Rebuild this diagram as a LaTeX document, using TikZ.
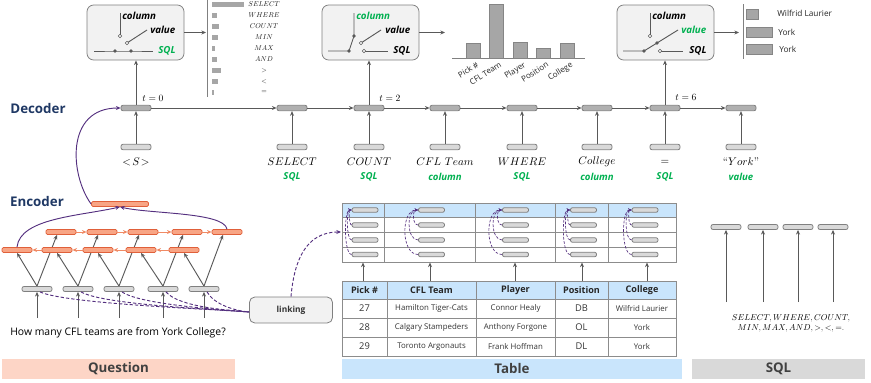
\documentclass[tikz,border=0pt]{standalone}
\usepackage{fontspec}
\usepackage{graphicx}
\setsansfont{Open Sans}
\usetikzlibrary{arrows.meta,calc}
\pgfdeclarelayer{bg}
\pgfsetlayers{bg,main}
\newcommand\mymth[2]{\scalebox{#1}{\fontsize{10}{12}\selectfont$#2$}}
\definecolor{arrgray}{HTML}{595959}
\definecolor{boxline}{HTML}{808080}
\definecolor{hidfill}{HTML}{B0B0B0}
\definecolor{inpfill}{HTML}{D9D9D9}
\definecolor{orfill}{HTML}{F8A585}
\definecolor{orline}{HTML}{E0603A}
\definecolor{orarrow}{HTML}{F08A64}
\definecolor{purp}{HTML}{54307F}
\definecolor{grn}{HTML}{00B050}
\definecolor{navy}{HTML}{1F3864}
\definecolor{swfill}{HTML}{F2F2F2}
\definecolor{barfill}{HTML}{A6A6A6}
\definecolor{peach}{HTML}{FDD5C6}
\definecolor{lblue}{HTML}{C9E5FC}
\definecolor{lgray}{HTML}{D9D9D9}
\definecolor{bandtext}{HTML}{404040}
\definecolor{tblline}{HTML}{8C8C8C}
\tikzset{
  gl/.style={draw=arrgray, line width=0.7pt},
  garr/.style={gl, -{Stealth[length=3.5pt,width=3pt]}},
  oarr/.style={draw=orarrow, line width=0.7pt, -{Stealth[length=3.5pt,width=3pt]}},
  parr/.style={draw=purp, line width=0.7pt, -{Stealth[length=3.5pt,width=3pt]}},
  pdash/.style={parr, dash pattern=on 2.5pt off 1.5pt},
  pdline/.style={draw=purp, line width=0.7pt, dash pattern=on 2.5pt off 1.5pt},
  pdsmall/.style={draw=purp, line width=0.5pt, dash pattern=on 2pt off 1.2pt, -{Stealth[length=2.5pt,width=2.2pt]}},
  hid/.style={draw=boxline, fill=hidfill, rounded corners=1.5pt, minimum width=22.5pt, minimum height=4.1pt, inner sep=0pt, line width=0.6pt},
  inp/.style={hid, fill=inpfill},
  wbox/.style={inp, minimum height=3.75pt},
  ubox/.style={inp, minimum width=19.5pt, minimum height=3.5pt},
  orbox/.style={draw=orline, fill=orfill, rounded corners=1pt, minimum width=22.5pt, minimum height=3.75pt, inner sep=0pt, line width=0.6pt},
  swbox/.style={draw=boxline, fill=swfill, rounded corners=5pt, minimum width=72.75pt, minimum height=41.25pt, line width=0.6pt},
  swl/.style={draw=arrgray, line width=0.7pt},
  swt/.style={anchor=west, inner sep=0pt, font=\sffamily\bfseries\itshape\fontsize{7.3}{8}\selectfont},
  tok/.style={inner sep=0pt},
  typ/.style={inner sep=0pt, text=grn, font=\sffamily\bfseries\itshape\fontsize{7.2}{8}\selectfont},
  sect/.style={inner sep=0pt, text=navy, font=\sffamily\bfseries\fontsize{10}{12}\selectfont},
  band/.style={minimum height=15pt, inner sep=0pt, font=\sffamily\bfseries\fontsize{10}{12}\selectfont, text=bandtext},
  bar/.style={fill=barfill, draw=barfill!80!black, line width=0.3pt},
  axisl/.style={draw=boxline, line width=0.6pt},
  tbl/.style={draw=tblline, line width=0.6pt},
  th/.style={inner sep=0pt, text=black!85, font=\sffamily\bfseries\fontsize{6.8}{8}\selectfont},
  tnum/.style={inner sep=0pt, text=black!80, font=\sffamily\fontsize{7}{8}\selectfont},
  tname/.style={inner sep=0pt, text=black!80, font=\sffamily\fontsize{5.9}{7}\selectfont},
  chl/.style={inner sep=0pt, text=black!85, font=\sffamily\fontsize{6}{7}\selectfont},
  mlab/.style={inner sep=0pt, text=black!90},
  tlab/.style={inner sep=0pt}
}
\begin{document}
\begin{tikzpicture}[x=0.75pt,y=0.75pt]
\useasboundingbox (0,0) rectangle (871,-382);

% ---------- bands ----------
\node[band, fill=peach, minimum width=174.75pt] (qband) at (118.5,-369) {Question};
\node[band, fill=lblue, minimum width=255pt] (tband) at (512,-368.5) {Table};
\node[band, fill=lgray, minimum width=129.75pt] (sband) at (778.5,-369) {SQL};

\node[sect] (declab) at (38,-108) {Decoder};
\node[sect] (enclab) at (37,-201) {Encoder};

% ---------- decoder ----------
\foreach \i/\x in {1/136,2/292,3/369,4/445,5/522,6/597,7/665,8/741}{
  \node[hid] (d\i) at (\x,-108) {};
  \node[inp] (i\i) at (\x,-147) {};
  \draw[garr] (i\i.north) -- (d\i.south);
}
\foreach \a/\b in {1/2,2/3,3/4,4/5,5/6,6/7,7/8} \draw[garr] (d\a.east) -- (d\b.west);
\node[tok] (tok1) at (136,-162) {\mymth{0.83}{<\!S\!>}};
\node[tok] (tok2) at (292,-162) {\mymth{0.83}{SELECT}};
\node[tok] (tok3) at (369,-162) {\mymth{0.83}{COUNT}};
\node[tok] (tok4) at (445,-162) {\mymth{0.83}{CFL\ Team}};
\node[tok] (tok5) at (522,-162) {\mymth{0.83}{WHERE}};
\node[tok] (tok6) at (597,-162) {\mymth{0.83}{College}};
\node[tok] (tok7) at (665,-162) {\mymth{0.83}{=}};
\node[tok] (tok8) at (741,-162) {\scalebox{0.83}{\fontsize{10}{12}\selectfont``$York$''}};
\foreach \i/\x/\lab in {2/292/SQL,3/369/SQL,4/445/column,5/522/SQL,6/597/column,7/665/SQL,8/741/value}
  \node[typ] (typ\i) at (\x,-177) {\lab};
\node[tlab] (tzero) at (153,-98) {\mymth{0.72}{t = 0}};
\node[tlab] (ttwo) at (390,-98) {\mymth{0.72}{t = 2}};
\node[tlab] (tsix) at (686,-97) {\mymth{0.72}{t = 6}};

% ---------- switch box 1 (SQL) ----------
\begin{scope}[shift={(87,-5)}]
  \node[swbox] (sw1) at (48.5,-27.5) {};
  \coordinate (sw1P) at (28,-46); \coordinate (sw1C) at (33,-31);
  \coordinate (sw1V) at (40,-38); \coordinate (sw1S) at (44,-46);
  \draw[swl] (7,-46) -- (sw1P) -- (sw1S) -- (66,-46);
  \draw[swl] (33,-8) -- (sw1C);
  \draw[swl] (sw1V) -- (60,-25);
  \fill[arrgray] (sw1P) circle (1.4pt) (sw1S) circle (1.4pt);
  \draw[swl, line width=0.5pt, fill=white] (sw1C) circle (1.3pt) (sw1V) circle (1.3pt);
  \node[swt] (sw1c) at (35,-11) {column};
  \node[swt] (sw1v) at (63,-25) {value};
  \node[swt, text=grn] (sw1s) at (71,-46) {SQL};
\end{scope}
% ---------- switch box 2 (column) ----------
\begin{scope}[shift={(322,-5)}]
  \node[swbox] (sw2) at (48.5,-27.5) {};
  \coordinate (sw2P) at (27,-46); \coordinate (sw2C) at (32,-31);
  \coordinate (sw2V) at (39,-38); \coordinate (sw2S) at (42,-46);
  \draw[swl] (6,-46) -- (sw2P) -- (sw2C) -- (32,-8);
  \draw[swl] (sw2V) -- (59,-25);
  \draw[swl] (sw2S) -- (66,-46);
  \fill[arrgray] (sw2P) circle (1.4pt) (sw2C) circle (1.4pt);
  \draw[swl, line width=0.5pt, fill=white] (sw2S) circle (1.3pt) (sw2V) circle (1.3pt);
  \node[swt, text=grn] (sw2c) at (34,-11) {column};
  \node[swt] (sw2v) at (63,-25) {value};
  \node[swt] (sw2s) at (71,-46) {SQL};
\end{scope}
% ---------- switch box 3 (value) ----------
\begin{scope}[shift={(617,-5)}]
  \node[swbox] (sw3) at (48.5,-27.5) {};
  \coordinate (sw3P) at (27,-46); \coordinate (sw3C) at (33,-31);
  \coordinate (sw3V) at (40,-38); \coordinate (sw3S) at (43,-46);
  \draw[swl] (6,-46) -- (sw3P) -- (sw3V) -- (61,-25);
  \draw[swl] (33,-8) -- (sw3C);
  \draw[swl] (sw3S) -- (66,-46);
  \fill[arrgray] (sw3P) circle (1.4pt) (sw3V) circle (1.4pt);
  \draw[swl, line width=0.5pt, fill=white] (sw3S) circle (1.3pt) (sw3C) circle (1.3pt);
  \node[swt] (sw3c) at (35,-11) {column};
  \node[swt, text=grn] (sw3v) at (64,-25) {value};
  \node[swt] (sw3s) at (72,-46) {SQL};
\end{scope}

\draw[garr] (d1.north) -- (d1.north |- sw1.south);
\draw[garr] (d3.north) -- (d3.north |- sw2.south);
\draw[garr] (d7.north) -- (d7.north |- sw3.south);

% ---------- chart 1 ----------
\coordinate (ch1) at (206,-32.5);
\draw[garr] (sw1.east) -- (ch1);
\draw[axisl] (207,0) -- (207,-97);
\foreach \w/\y/\lab [count=\k] in {32/4.5/SELECT,5/15.5/WHERE,7/26.5/COUNT,6/37.5/MIN,3/48.5/MAX,5/59.5/AND,9/70.5/{>},6/81.5/{<},2/92.5/{=}}{
  \fill[barfill] (212,{-\y+2.5}) rectangle ++(\w,-5);
  \node[mlab] (c1l\k) at (264,-\y) {\mymth{0.53}{\lab}};
}
% ---------- chart 2 ----------
\coordinate (ch2) at (445,-32.5);
\draw[garr] (sw2.east) -- (ch2);
\draw[axisl] (452,-58) -- (585,-58);
\foreach \x/\h/\lab [count=\k] in {466/43/{Pick \#},489/4/{CFL Team},513/42/Player,536/48/Position,560/43/College}{
  \draw[bar] (\x,-58) rectangle (\x+14,-\h);
  \node[chl, rotate=32, anchor=north east] (c2l\k) at (\x+10,-61) {\lab};
}
% ---------- chart 3 ----------
\coordinate (ch3) at (739,-32.5);
\draw[garr] (sw3.east) -- (ch3);
\draw[axisl] (743,-4) -- (743,-59);
\draw[bar] (746,-9) rectangle (758,-19);
\draw[bar] (746,-27) rectangle (772,-37);
\draw[bar] (746,-44) rectangle (772,-54);
\node[chl, anchor=west, font=\sffamily\fontsize{6.2}{7}\selectfont] (c3l1) at (777,-13) {Wilfrid Laurier};
\node[chl, anchor=west, font=\sffamily\fontsize{6.2}{7}\selectfont] (c3l2) at (778,-32) {York};
\node[chl, anchor=west, font=\sffamily\fontsize{6.2}{7}\selectfont] (c3l3) at (779,-49) {York};

% ---------- encoder ----------
\node[orbox, minimum width=42.75pt] (enctop) at (120,-204) {};
\foreach \k/\x in {1/61,2/102,3/143,4/187,5/227} \node[orbox] (f\k) at (\x,-232) {};
\foreach \k/\x in {1/17,2/57,3/98,4/141,5/184} \node[orbox] (b\k) at (\x,-250) {};
\foreach \k/\x in {1/37,2/78,3/119,4/163,5/204}{
  \node[wbox] (e\k) at (\x,-289) {};
  \coordinate (q\k) at (\x,-318);
  \draw[garr] (q\k) -- (e\k.south);
}
\begin{pgfonlayer}{bg}
\foreach \k in {1,...,5}{
  \draw[garr] (e\k.north) -- (b\k.south);
  \draw[garr] (e\k.north) -- ($(f\k.south)+(-4,0)$);
}
\end{pgfonlayer}
\foreach \a/\b in {1/2,2/3,3/4,4/5}{
  \draw[oarr] (f\a.east) -- (f\b.west);
  \draw[oarr] (b\b.west) -- (b\a.east);
}
\draw[parr] (b1.north) .. controls (20,-218) and (80,-216) .. (enctop.south);
\draw[parr] (f5.north) .. controls (224,-212) and (150,-214) .. (enctop.south);
\draw[parr] (enctop.west) .. controls (70,-175) and (65,-108) .. (d1.west);

\node[inner sep=0pt, anchor=west, font=\sffamily\fontsize{7.8}{9}\selectfont] (qtext) at (10,-333) {How many CFL teams are from York College?};

% ---------- linking ----------
\node[draw=boxline, fill=swfill, rounded corners=4pt, minimum width=62.25pt, minimum height=19.5pt, line width=0.6pt,
      font=\sffamily\bfseries\fontsize{6.3}{8}\selectfont, text=black!80] (link) at (291,-310) {linking};
\foreach \k/\o/\l in {1/-25/0.35,2/-30/0.4,3/-35/0.45,4/-50/0.6,5/-60/0.8}
  \draw[pdline] ($(e\k.south)+(3,0)$) to[out=\o,in=175,looseness=\l] ($(link.west)+(0,-2)$);
\coordinate (tabin) at (341,-232);
\draw[pdash] (link.north) .. controls (294,-262) and (305,-232) .. (tabin);

% ---------- upper table ----------
\fill[lblue] (342,-203) rectangle (676,-217);
\draw[tbl] (342,-203) rectangle (676,-262);
\foreach \y in {217,232.5,247} \draw[tbl] (342,-\y) -- (676,-\y);
\foreach \x in {384,475,555,608} \draw[tbl] (\x,-203) -- (\x,-262);
\foreach \c/\x in {1/365,2/431.5,3/515.5,4/583.5,5/645}
  \foreach \r/\y in {1/210,2/225,3/240,4/254.5}
    \node[ubox] (u\c\r) at (\x,-\y) {};
\foreach \c/\l in {1/0.45,2/1,3/1,4/0.5,5/0.6}
  \foreach \r in {2,3,4}
    \draw[pdsmall] (u\c\r.west) to[out=180,in=180,looseness=\l] (u\c1.west);

% ---------- lower table ----------
\fill[lblue] (342,-281) rectangle (676,-299);
\draw[tbl] (342,-281) rectangle (676,-356);
\foreach \y in {299,318,337} \draw[tbl] (342,-\y) -- (676,-\y);
\foreach \x in {387,476,555,608} \draw[tbl] (\x,-281) -- (\x,-356);
\foreach \x/\lab [count=\k] in {364.5/{Pick \#},431.5/{CFL Team},515.5/Player,581.5/Position,642/College}
  \node[th] (th\k) at (\x,-290) {\lab};
\node[tnum] (r1a) at (364.5,-308.5) {27};
\node[tname] (r1b) at (431.5,-308.5) {Hamilton Tiger-Cats};
\node[tname] (r1c) at (515.5,-308.5) {Connor Healy};
\node[tnum] (r1d) at (581.5,-308.5) {DB};
\node[tname] (r1e) at (642,-308.5) {Wilfrid Laurier};
\node[tnum] (r2a) at (364.5,-327.5) {28};
\node[tname] (r2b) at (431.5,-327.5) {Calgary Stampeders};
\node[tname] (r2c) at (515.5,-327.5) {Anthony Forgone};
\node[tnum] (r2d) at (581.5,-327.5) {OL};
\node[tname] (r2e) at (642,-327.5) {York};
\node[tnum] (r3a) at (364.5,-346.5) {29};
\node[tname] (r3b) at (431.5,-346.5) {Toronto Argonauts};
\node[tname] (r3c) at (515.5,-346.5) {Frank Hoffman};
\node[tnum] (r3d) at (581.5,-346.5) {DL};
\node[tname] (r3e) at (642,-346.5) {York};
\foreach \x [count=\k] in {363,430,515,582,647}{
  \coordinate (lt\k) at (\x,-281);
  \coordinate (ut\k) at (\x,-262.5);
  \draw[garr] (lt\k) -- (ut\k);
}

% ---------- SQL vocabulary ----------
\foreach \x [count=\k] in {726,763,798,833}{
  \node[wbox] (s\k) at (\x,-227) {};
  \coordinate (sq\k) at (\x,-302);
  \draw[garr] (sq\k) -- (s\k.south);
}
\node[inner sep=0pt] (sqlt1) at (791,-318) {\mymth{0.64}{SELECT, WHERE, COUNT,}};
\node[inner sep=0pt] (sqlt2) at (791,-328.5) {\mymth{0.64}{MIN, MAX, AND, {>}, {<}, {=}.}};
\end{tikzpicture}
\end{document}
